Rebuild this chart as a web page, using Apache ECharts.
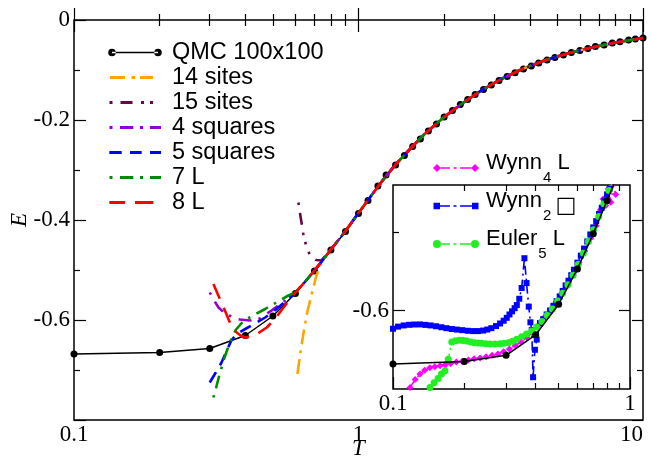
<!DOCTYPE html>
<html><head><meta charset="utf-8">
<script src="https://cdn.jsdelivr.net/npm/echarts@6/dist/echarts.min.js"></script>
<style>html,body{margin:0;padding:0;background:#fff}#c{width:652px;height:462px}</style>
</head><body><div id="c"></div>
<script>
// ---------- data ----------
const qmcT = [0.1,0.2,0.3,0.4,0.5,0.6,0.7,0.8,0.9,1.0,1.08,1.17,1.25,1.35,1.45,1.55,1.65,1.76,1.88,2.0,2.14,2.28,2.42,2.57,2.75,2.93,3.12,3.33,3.55,3.8,4.05,4.3,4.6,4.9,5.25,5.6,6.0,6.4,6.8,7.3,7.8,8.3,8.9,9.4,10.0];
const qmcE = [-0.668,-0.665,-0.657,-0.631,-0.592,-0.547,-0.502,-0.460,-0.423,-0.387,-0.361,-0.332,-0.310,-0.290,-0.271,-0.253,-0.238,-0.222,-0.208,-0.194,-0.181,-0.169,-0.159,-0.149,-0.139,-0.130,-0.121,-0.113,-0.1055,-0.098,-0.092,-0.086,-0.080,-0.075,-0.070,-0.065,-0.061,-0.057,-0.053,-0.050,-0.046,-0.0435,-0.040,-0.038,-0.036];

// high-T part where all expansions lie on the QMC curve
const convT = [0.6,0.65,0.7,0.75,0.8,0.85,0.9,1.0,1.1,1.2,1.35,1.5,1.7,2.0,2.3,2.7,3.2,3.8,4.5,5.5,6.5,8,10];
const convE = [-0.545,-0.523,-0.501,-0.480,-0.459,-0.440,-0.422,-0.386,-0.354,-0.325,-0.289,-0.261,-0.229,-0.194,-0.168,-0.141,-0.117,-0.097,-0.081,-0.066,-0.056,-0.045,-0.036];

const s14T = [0.61,0.625,0.64,0.66,0.685,0.71,0.74];
const s14E = [-0.708,-0.665,-0.628,-0.585,-0.548,-0.513,-0.484];
const s15T = [0.615,0.625,0.64,0.655,0.67,0.69,0.71,0.74];
const s15E = [-0.365,-0.392,-0.428,-0.452,-0.466,-0.476,-0.480,-0.481];
const sq4T = [0.30,0.31,0.322,0.335,0.349,0.365,0.383,0.415,0.45,0.495,0.55];
const sq4E = [-0.545,-0.56,-0.575,-0.584,-0.59,-0.596,-0.599,-0.601,-0.597,-0.581,-0.562];
const sq5T = [0.30,0.315,0.33,0.345,0.358,0.375,0.40,0.43,0.47,0.51,0.55];
const sq5E = [-0.725,-0.705,-0.685,-0.66,-0.64,-0.627,-0.618,-0.608,-0.595,-0.58,-0.564];
const l7T = [0.309,0.316,0.324,0.338,0.353,0.37,0.39,0.405,0.435,0.47,0.50,0.535,0.567];
const l7E = [-0.755,-0.735,-0.711,-0.675,-0.645,-0.62,-0.605,-0.598,-0.588,-0.578,-0.569,-0.559,-0.551];
const l8T = [0.309,0.32,0.33,0.342,0.353,0.363,0.373,0.385,0.399,0.42,0.44,0.476,0.51,0.545,0.58];
const l8E = [-0.528,-0.548,-0.565,-0.586,-0.605,-0.617,-0.625,-0.631,-0.635,-0.633,-0.628,-0.615,-0.597,-0.575,-0.556];

// inset
const wynn4T = [0.118,0.124,0.13,0.136,0.143,0.15,0.158,0.166,0.175,0.185,0.196,0.208,0.22,0.233,0.247,0.262,0.277,0.293,0.31,0.328,0.347,0.367,0.388,0.41,0.434,0.46,0.487,0.515,0.545,0.577,0.61,0.645,0.683,0.72,0.75,0.77,0.79,0.81,0.83,0.85,0.87];
const wynn4E = [-0.698,-0.688,-0.681,-0.676,-0.673,-0.6715,-0.6703,-0.669,-0.6675,-0.6655,-0.6645,-0.663,-0.6615,-0.6605,-0.659,-0.657,-0.6555,-0.6525,-0.649,-0.6445,-0.640,-0.6345,-0.628,-0.619,-0.609,-0.599,-0.589,-0.578,-0.566,-0.553,-0.539,-0.524,-0.508,-0.492,-0.472,-0.458,-0.466,-0.445,-0.462,-0.438,-0.452];
const wynn2T = [0.1,0.105,0.111,0.117,0.123,0.13,0.137,0.144,0.152,0.16,0.168,0.177,0.186,0.196,0.207,0.218,0.229,0.24,0.25,0.26,0.272,0.283,0.293,0.302,0.31,0.318,0.326,0.333,0.341,0.349,0.3585,0.366,0.374,0.38,0.385,0.39,0.397,0.404,0.417,0.43,0.445,0.46,0.475,0.49,0.505,0.52,0.535,0.55,0.565,0.58,0.6,0.62,0.64,0.66,0.68,0.7,0.72,0.74,0.76,0.78,0.8,0.82,0.84,0.86];
const wynn2E = [-0.6232,-0.6205,-0.619,-0.6182,-0.6178,-0.6177,-0.6183,-0.619,-0.62,-0.6213,-0.6225,-0.6235,-0.6243,-0.625,-0.6258,-0.6262,-0.6262,-0.6255,-0.6242,-0.6225,-0.6198,-0.6165,-0.613,-0.6093,-0.605,-0.601,-0.597,-0.593,-0.585,-0.5713,-0.5333,-0.565,-0.595,-0.615,-0.625,-0.685,-0.65,-0.637,-0.616,-0.611,-0.605,-0.600,-0.594,-0.588,-0.582,-0.575,-0.568,-0.562,-0.555,-0.548,-0.539,-0.530,-0.521,-0.512,-0.503,-0.494,-0.486,-0.477,-0.469,-0.460,-0.452,-0.445,-0.437,-0.430];
const euler5T = [0.1433,0.149,0.155,0.16,0.1657,0.171,0.177,0.1835,0.1905,0.1975,0.2046,0.2125,0.2204,0.2285,0.2366,0.2465,0.2567,0.2695,0.2829,0.2945,0.3066,0.3195,0.3327,0.349,0.366,0.385,0.404,0.425,0.447,0.47,0.495,0.52,0.547,0.575,0.605,0.636,0.668,0.702,0.738,0.776,0.815,0.857];
const euler5E = [-0.698,-0.692,-0.6865,-0.681,-0.6768,-0.662,-0.64,-0.6385,-0.638,-0.6382,-0.6388,-0.64,-0.641,-0.6415,-0.6418,-0.6422,-0.6426,-0.6425,-0.6422,-0.6416,-0.641,-0.639,-0.6367,-0.6335,-0.630,-0.626,-0.621,-0.614,-0.606,-0.598,-0.588,-0.578,-0.567,-0.555,-0.541,-0.527,-0.512,-0.497,-0.48,-0.464,-0.447,-0.43];

// axis ticks / labels
const mainXMajor = [0.1,1,10];
const mainXMinor = [0.2,0.3,0.4,0.5,0.6,0.7,0.8,0.9,2,3,4,5,6,7,8,9];
const mainYLabels = [0,-0.2,-0.4,-0.6];
const insetXMajor = [0.1,1];
const insetXMinor = [0.2,0.3,0.4,0.5,0.6,0.7,0.8,0.9];
const insetYMajor = [-0.6];
const insetYMinor = [-0.5];

// ---------- build ----------
const pairs = (t, e) => t.map((v, i) => [v, e[i]]);
const withConv = (t, e) => {
  const last = t[t.length - 1];
  const p = pairs(t, e);
  convT.forEach((v, i) => { if (v > last) p.push([v, convE[i]]); });
  return p;
};

const serif = 'Liberation Serif';
const sans = 'Liberation Sans';
const labRich = { t: { fontFamily: serif, fontSize: 23, color: '#000' } };
const fmt = v => '{t|' + String(+(+v).toPrecision(3)) + '}';
const blk = { color: '#000', width: 1.2 };
const nameStyle = { fontFamily: serif, fontSize: 23, fontStyle: 'italic', color: '#000' };

function xAx(grid, pos, vals, len, labels, min, max, extra, alignMax) {
  const lbl = labels ? { customValues: labels, formatter: fmt, margin: 3, fontFamily: serif, fontSize: 23, color: '#000', rich: labRich } : { show: false };
  if (labels && alignMax) lbl.alignMaxLabel = 'right';
  return Object.assign({
    type: 'log', logBase: 10, gridIndex: grid, position: pos, min: min, max: max,
    axisLine: { show: false }, splitLine: { show: false },
    axisTick: { show: true, inside: true, length: len, customValues: vals, lineStyle: blk },
    axisLabel: lbl
  }, extra || {});
}
function yAx(grid, pos, min, max, interval, len, customTicks, labels, extra) {
  const a = {
    type: 'value', gridIndex: grid, position: pos, min: min, max: max, interval: interval,
    axisLine: { show: false }, splitLine: { show: false },
    axisTick: { show: true, inside: true, length: len, lineStyle: blk },
    axisLabel: labels ? { customValues: labels, formatter: fmt, margin: 4, fontFamily: serif, fontSize: 23, color: '#000', rich: labRich } : { show: false }
  };
  if (customTicks) a.axisTick.customValues = customTicks;
  return Object.assign(a, extra || {});
}

// legend icons (drawn in the icon box; first two moves pin the box)
const box = (w, h) => 'M0,0 M' + w + ',' + h + ' ';
const qmcIcon  = 'path://' + box(54,14) + 'M0.2,7a3.8,3.8 0 1,0 7.6,0a3.8,3.8 0 1,0 -7.6,0Z M46.2,7a3.8,3.8 0 1,0 7.6,0a3.8,3.8 0 1,0 -7.6,0Z M4,6.2H50V7.8H4Z';
const s14Icon  = 'path://' + box(54,14) + 'M2,5.6H17V8.4H2Z M23.5,5.6H27V8.4H23.5Z M32,5.6H45V8.4H32Z';
const s15Icon  = 'path://' + box(54,14) + 'M1.5,5.6H4.5V8.4H1.5Z M12.5,5.6H24.5V8.4H12.5Z M33,5.6H36V8.4H33Z M42,5.6H45V8.4H42Z';
const sq4Icon  = 'path://' + box(54,14) + 'M1.5,5.6H4.5V8.4H1.5Z M12,5.6H25.3V8.4H12Z M32,5.6H35V8.4H32Z M42,5.6H53V8.4H42Z';
const sq5Icon  = 'path://' + box(54,14) + 'M1.3,5.6H13.7V8.4H1.3Z M22,5.6H33.7V8.4H22Z M42,5.6H53V8.4H42Z';
const l7Icon   = 'path://' + box(54,14) + 'M1.5,5.6H4.5V8.4H1.5Z M12,5.6H25.3V8.4H12Z M32,5.6H35V8.4H32Z M42,5.6H53V8.4H42Z';
const l8Icon   = 'path://' + box(54,14) + 'M1.3,5.6H17V8.4H1.3Z M27,5.6H45.3V8.4H27Z';
// inset legend icons: marks sit 5px below the text centre, as in the reference
const w4Icon = 'path://' + box(46,20) + 'M0,15L4,11L8,15L4,19Z M38,15L42,11L46,15L42,19Z M8,14.2H17V15.8H8Z M20.5,14.2H23.5V15.8H20.5Z M27,14.2H38V15.8H27Z';
const w2Icon = 'path://' + box(46,20) + 'M0.5,11.7H7V18.3H0.5Z M39,11.7H45.5V18.3H39Z M7,14.2H17V15.8H7Z M20.5,14.2H23.5V15.8H20.5Z M27,14.2H39V15.8H27Z';
const e5Icon = 'path://' + box(46,20) + 'M0,15a4,4 0 1,0 8,0a4,4 0 1,0 -8,0Z M38,15a4,4 0 1,0 8,0a4,4 0 1,0 -8,0Z M8,14.2H17V15.8H8Z M20.5,14.2H23.5V15.8H20.5Z M27,14.2H38V15.8H27Z';

const insetNames = { 'Wynn4 L': '{a|Wynn}{s|4}{a| L}', 'Wynn2 sq': '{a|Wynn}{s|2}{q|□}', 'Euler5 L': '{a|Euler}{s|5}{a| L}' };

const chart = echarts.init(document.getElementById('c'), null, { renderer: 'canvas' });
const line = (name, data, color, dash) => ({
  name, type: 'line', xAxisIndex: 0, yAxisIndex: 0, data, symbol: 'none', z: 3,
  lineStyle: { color, width: 2.6, type: dash }, itemStyle: { color }
});

chart.setOption({
  animation: false,
  backgroundColor: '#fff',
  grid: [
    { left: 74, top: 20, width: 569, height: 400, outerBoundsMode: 'none', containLabel: false,
      show: true, borderColor: '#000', borderWidth: 1.5, backgroundColor: 'transparent' },
    { left: 393, top: 185, width: 237, height: 204, outerBoundsMode: 'none', containLabel: false,
      show: true, borderColor: '#000', borderWidth: 1.5, backgroundColor: '#fff', z: 3 }
  ],
  xAxis: [
    xAx(0, 'bottom', mainXMajor, 12, mainXMajor, 0.1, 10, { name: 'T', nameLocation: 'middle', nameGap: 17,
      nameMoveOverlap: false, nameTextStyle: nameStyle }, true),
    xAx(0, 'bottom', mainXMinor, 6, null, 0.1, 10),
    xAx(0, 'top', mainXMajor, 12, null, 0.1, 10),
    xAx(0, 'top', mainXMinor, 6, null, 0.1, 10),
    xAx(1, 'bottom', insetXMajor, 12, insetXMajor, 0.1, 1, { z: 4 }),
    xAx(1, 'bottom', insetXMinor, 6, null, 0.1, 1, { z: 4 }),
    xAx(1, 'top', insetXMinor, 6, null, 0.1, 1, { z: 4 })
  ],
  yAxis: [
    yAx(0, 'left', -0.8, 0, 0.2, 12, null, mainYLabels, {
      minorTick: { show: true, splitNumber: 2, length: 6, lineStyle: blk },
      name: 'E', nameLocation: 'middle', nameGap: 43, nameRotate: 90, nameMoveOverlap: false,
      nameTextStyle: nameStyle }),
    yAx(0, 'right', -0.8, 0, 0.2, 11, null, null, {
      minorTick: { show: true, splitNumber: 2, length: 6, lineStyle: blk } }),
    yAx(1, 'left', -0.7, -0.44, 0.1, 12, insetYMajor, insetYMajor, { z: 4 }),
    yAx(1, 'left', -0.7, -0.44, 0.1, 6, insetYMinor, null, { z: 4 }),
    yAx(1, 'right', -0.7, -0.44, 0.1, 11, insetYMajor, null, { z: 4 }),
    yAx(1, 'right', -0.7, -0.44, 0.1, 6, insetYMinor, null, { z: 4 })
  ],
  legend: [
    { show: true, orient: 'vertical', left: 108, top: 40, padding: 0, itemWidth: 54, itemHeight: 14, itemGap: 0,
      selectedMode: false,
      textStyle: { fontFamily: sans, fontSize: 23.5, color: '#000', lineHeight: 25, padding: [0, 0, 0, 5] },
      data: [ { name: 'QMC 100x100', icon: qmcIcon }, { name: '14 sites', icon: s14Icon }, { name: '15 sites', icon: s15Icon },
              { name: '4 squares', icon: sq4Icon }, { name: '5 squares', icon: sq5Icon }, { name: '7 L', icon: l7Icon }, { name: '8 L', icon: l8Icon } ] },
    { show: true, orient: 'vertical', left: 433, top: 152, padding: 0, itemWidth: 46, itemHeight: 20, itemGap: 4.5,
      selectedMode: false,
      formatter: n => insetNames[n],
      textStyle: { color: '#000', padding: [0, 0, 0, 2],
        rich: {
          a: { fontFamily: sans, fontSize: 22, lineHeight: 22, color: '#000', verticalAlign: 'top' },
          s: { fontFamily: sans, fontSize: 15, lineHeight: 15, color: '#000', verticalAlign: 'top', padding: [18.5, 0, 0, 1] },
          q: { fontFamily: 'DejaVu Sans', fontSize: 22, lineHeight: 22, color: '#000', verticalAlign: 'top', padding: [5, 0, 0, 4] }
        } },
      data: [ { name: 'Wynn4 L', icon: w4Icon }, { name: 'Wynn2 sq', icon: w2Icon }, { name: 'Euler5 L', icon: e5Icon } ] }
  ],
  series: [
    { name: 'QMC 100x100', type: 'line', xAxisIndex: 0, yAxisIndex: 0, data: pairs(qmcT, qmcE),
      symbol: 'circle', symbolSize: 7, showAllSymbol: true, z: 2,
      lineStyle: { color: '#000', width: 1.5 }, itemStyle: { color: '#000' } },
    line('14 sites', withConv(s14T, s14E), '#ffa500', [15, 6, 3, 6]),
    line('15 sites', withConv(s15T, s15E), '#67074a', [2.5, 8, 12, 8, 2.5, 7, 2.5, 8]),
    line('4 squares', withConv(sq4T, sq4E), '#9400d3', [2.5, 8, 13, 7]),
    line('5 squares', withConv(sq5T, sq5E), '#0000ff', [12, 8]),
    line('7 L', withConv(l7T, l7E), '#008b00', [2.5, 7, 13, 7]),
    line('8 L', withConv(l8T, l8E), '#ff0000', [16, 10]),
    { name: 'Wynn4 L', type: 'line', xAxisIndex: 4, yAxisIndex: 2, data: pairs(wynn4T, wynn4E), z: 5,
      symbol: 'diamond', symbolSize: 7, showAllSymbol: true,
      lineStyle: { color: '#ff00ff', width: 1.6, type: [9, 4, 2, 4] }, itemStyle: { color: '#ff00ff' } },
    { name: 'Wynn2 sq', type: 'line', xAxisIndex: 4, yAxisIndex: 2, data: pairs(wynn2T, wynn2E), z: 5,
      symbol: 'rect', symbolSize: 6, showAllSymbol: true,
      lineStyle: { color: '#0000ff', width: 1.6, type: [9, 4, 2, 4] }, itemStyle: { color: '#0000ff' } },
    { name: 'Euler5 L', type: 'line', xAxisIndex: 4, yAxisIndex: 2, data: pairs(euler5T, euler5E), z: 5,
      symbol: 'circle', symbolSize: 7, showAllSymbol: true,
      lineStyle: { color: '#22ee22', width: 1.6, type: [9, 4, 2, 4, 2, 4] }, itemStyle: { color: '#22ee22' } },
    { name: 'QMC inset', type: 'line', xAxisIndex: 4, yAxisIndex: 2, data: pairs(qmcT, qmcE), z: 6,
      symbol: 'circle', symbolSize: 7, showAllSymbol: true,
      lineStyle: { color: '#000', width: 1.5 }, itemStyle: { color: '#000' } }
  ]
});
</script></body></html>
